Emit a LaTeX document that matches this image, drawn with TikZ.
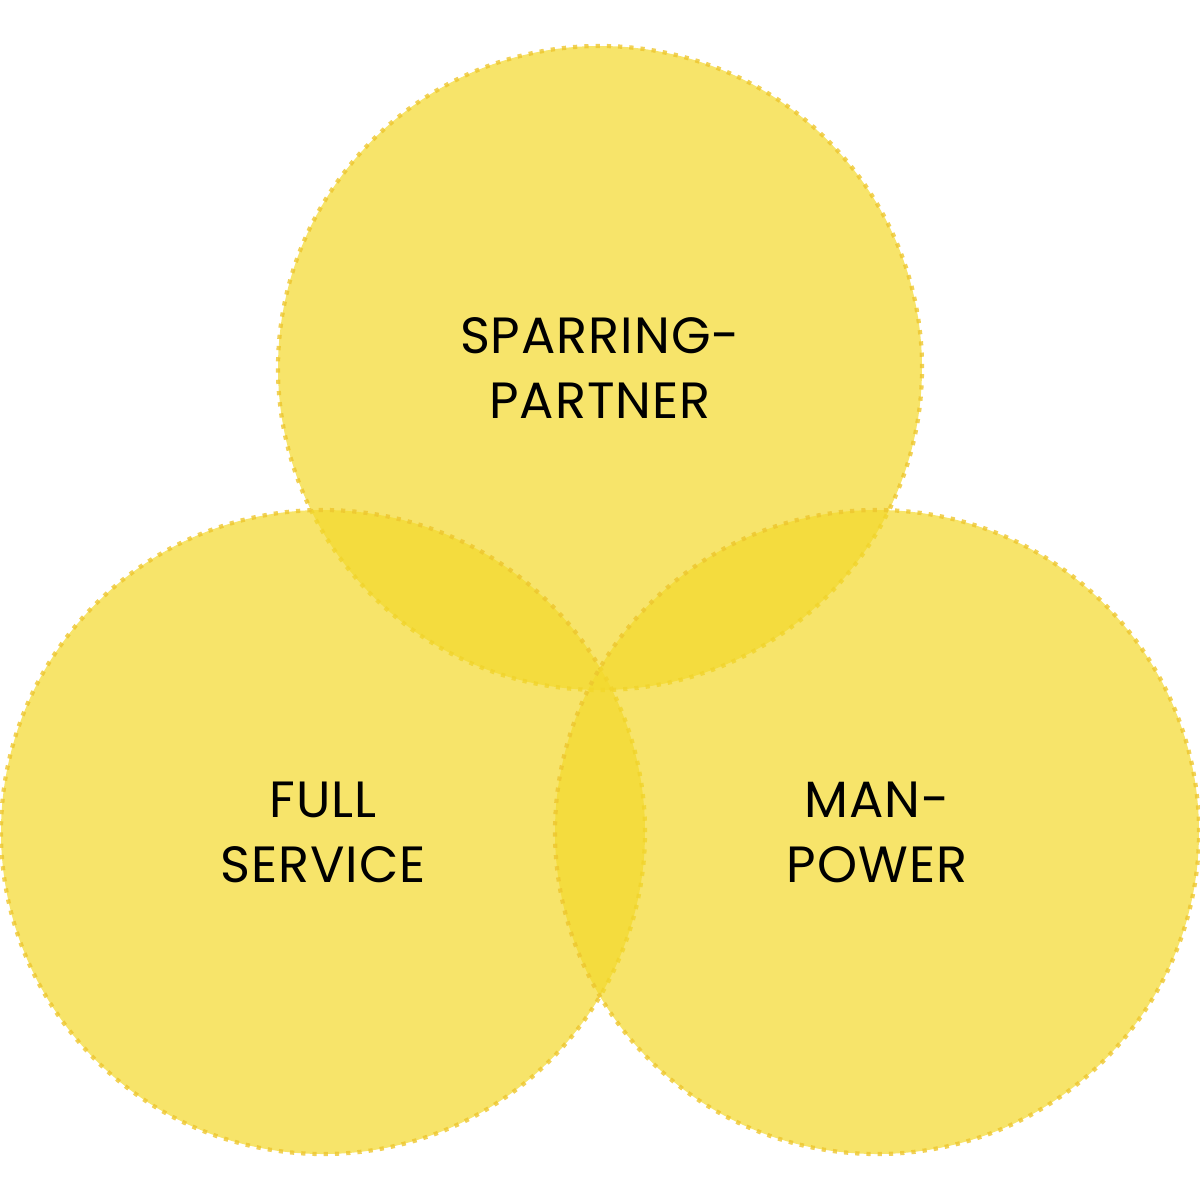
\documentclass[tikz,border=0pt]{standalone}
\usepackage{fontspec}
\setmainfont{Poppins}
\definecolor{venn}{HTML}{F3D92B}
\definecolor{vennline}{HTML}{EEC62E}
\begin{document}
\begin{tikzpicture}[y=-1cm,
            every node/.style={circle, minimum size=6.44cm, align=center, inner sep=0pt,
              font=\fontsize{14.5}{18.5}\selectfont\addfontfeature{LetterSpace=2}},
            ring/.style={fill=venn, fill opacity=0.7, text opacity=1, draw=vennline, draw opacity=0.8, dotted, line width=1.2pt}]
        \useasboundingbox (0,0) rectangle (12,12);
        \node[ring] (sparring) at (6,3.68) {SPARRING-\\PARTNER};
        \node[ring] (full) at (3.23,8.32) {FULL\\SERVICE};
        \node[ring] (man) at (8.77,8.32) {MAN-\\POWER};
\end{tikzpicture}
\end{document}
